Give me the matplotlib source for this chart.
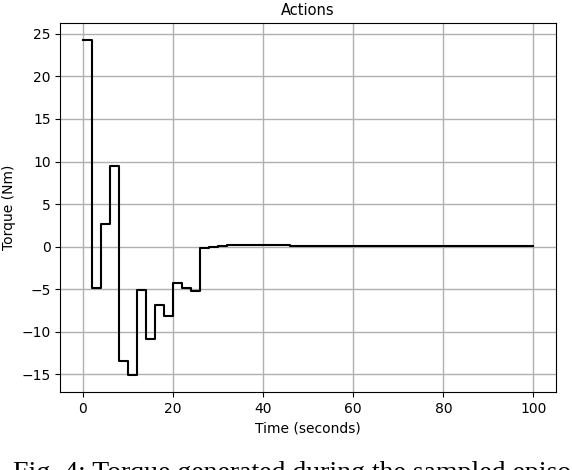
import numpy as np
import matplotlib
matplotlib.use("Agg")
import matplotlib.pyplot as plt

# step times (s) and torque values (Nm), held constant until the next time
t = [0, 2, 4, 6, 8, 10, 12, 14, 16, 18, 20, 22, 24, 26, 28, 30, 32, 46, 100]
torque = [24.3, -4.8, 2.7, 9.5, -13.4, -15.1, -5.1, -10.8, -6.8, -8.1,
          -4.3, -4.9, -5.2, -0.12, 0.0, 0.05, 0.2, 0.07, 0.07]

caption = "Fig. 4: Torque generated during the sampled episode"

fig = plt.figure(figsize=(5.72, 4.70), dpi=100)
ax = fig.add_axes([0.1054, 0.166, 0.8666, 0.785])

ax.step(t, torque, where="post", color="black", linewidth=1.5)
ax.set_title("Actions", fontsize=10.5)
ax.set_xlabel("Time (seconds)", fontsize=10)
ax.set_ylabel("Torque (Nm)", fontsize=10)
ax.set_xticks([0, 20, 40, 60, 80, 100])
ax.set_yticks([-15, -10, -5, 0, 5, 10, 15, 20, 25])
ax.tick_params(labelsize=10)
ax.grid(True, color="#b0b0b0", linewidth=1)

# paper caption below the chart, partly cut off by the figure edge as in the source
fig.text(0.023, -0.021, caption, fontsize=20, family="Liberation Serif",
         va="baseline", ha="left")

fig.savefig("out.png", dpi=100)
